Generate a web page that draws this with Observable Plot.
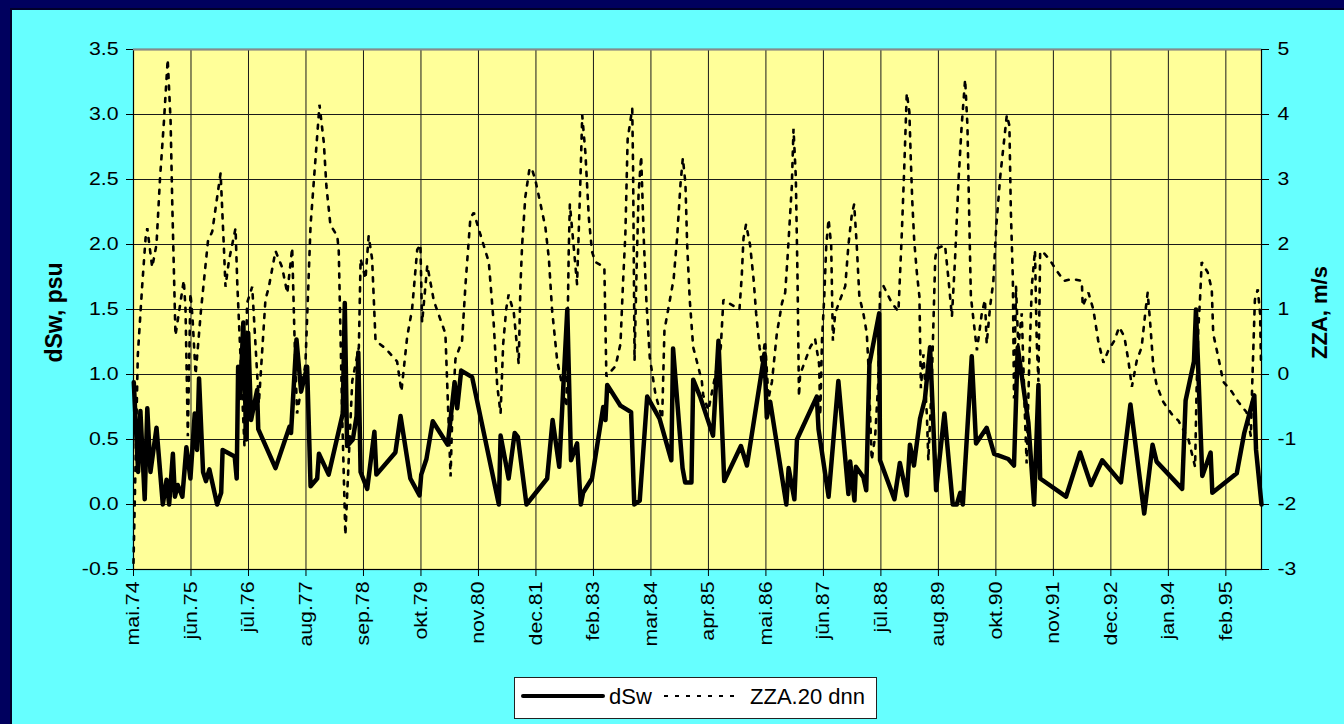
<!DOCTYPE html>
<html><head><meta charset="utf-8">
<script src="https://cdn.jsdelivr.net/npm/d3@7"></script>
<script src="https://cdn.jsdelivr.net/npm/@observablehq/plot@0.6"></script>
<style>
body{margin:0;width:1344px;height:724px;overflow:hidden;background:#00005e;font-family:"Liberation Sans",Arial,sans-serif;position:relative;}
#panel{position:absolute;left:10px;top:8px;width:1334px;height:716px;background:#66ffff;border-left:2px solid #00002a;border-top:2px solid #00002a;box-sizing:border-box;}
#chart{position:absolute;left:0;top:0;}
#legend{position:absolute;left:514px;top:677px;width:363px;height:42px;background:#fff;border:1px solid #222;box-sizing:border-box;}
</style></head><body>
<div id="panel"></div>
<div id="chart"></div>
<div id="legend"></div>
<script>
// x = 20-day period index (category number)
const dswPeriod = [0.1,1.6,2.4,3.9,4.8,5.9,8.0,10.2,11.5,12.4,13.7,14.4,15.4,17.0,18.4,19.8,21.3,22.1,22.8,24.2,25.2,26.4,29.1,30.5,31.0,35.2,35.9,36.4,37.1,38.2,39.2,39.9,40.9,43.0,43.4,49.4,54.3,54.8,56.7,58.3,60.4,61.6,63.9,64.5,67.9,72.8,73.5,74.3,76.3,77.6,78.2,79.0,81.3,83.8,84.5,91.1,92.9,96.3,99.5,100.1,101.9,104.1,109.3,111.7,112.6,114.0,117.8,127.1,127.7,130.5,132.6,133.7,136.7,143.9,145.8,148.1,150.9,152.2,154.3,155.6,156.4,159.5,163.4,164.2,164.8,169.4,173.1,174.2,176.1,178.7,183.0,187.1,187.7,191.0,191.9,194.1,194.7,197.1,201.6,203.5,205.5,211.3,213.4,219.5,220.3,221.5,227.1,227.9,229.9,230.8,237.7,238.3,241.8,245.2,248.7,249.3,250.8,251.3,253.9,254.9,256.0,259.4,259.7,264.7,266.6,269.0,270.1,271.5,273.6,275.3,277.1,279.2,282.1,285.0,286.4,287.6,288.5,291.6,293.1,296.8,299.4,304.3,306.3,307.6,311.3,313.3,314.8,315.4,324.4,329.3,333.1,337.0,343.5,346.8,351.6,354.5,355.9,364.8,366.0,368.9,369.6,371.8,374.7,375.3,383.8,386.4,389.9,390.5,392.4];
const dswValue = [0.94,0.25,0.72,0.04,0.74,0.25,0.59,0.00,0.19,0.00,0.39,0.06,0.15,0.06,0.44,0.20,0.70,0.42,0.97,0.25,0.18,0.27,0.00,0.09,0.42,0.37,0.20,1.06,0.82,1.40,0.50,1.32,0.65,0.88,0.58,0.28,0.60,0.55,1.27,0.87,1.06,0.14,0.20,0.39,0.23,0.70,1.55,0.45,0.50,0.68,1.17,0.25,0.12,0.56,0.23,0.40,0.68,0.20,0.07,0.23,0.35,0.64,0.46,0.94,0.74,1.03,0.98,0.00,0.53,0.20,0.55,0.52,0.00,0.20,0.65,0.29,1.50,0.34,0.47,0.00,0.09,0.20,0.75,0.65,0.92,0.76,0.71,0.00,0.03,0.83,0.66,0.34,1.20,0.28,0.17,0.17,0.96,0.83,0.53,1.26,0.18,0.45,0.30,1.16,0.67,0.79,0.00,0.28,0.04,0.50,0.83,0.58,0.06,0.95,0.08,0.33,0.03,0.29,0.21,0.11,1.08,1.47,0.34,0.04,0.32,0.07,0.46,0.30,0.66,0.81,1.21,0.11,0.70,0.00,0.00,0.09,0.00,1.14,0.47,0.59,0.39,0.35,0.30,1.21,0.63,0.00,0.92,0.20,0.06,0.40,0.15,0.34,0.17,0.77,-0.07,0.46,0.33,0.12,0.80,1.10,1.50,0.22,0.40,0.09,0.24,0.55,0.84,0.42,0.00];

const zzaPeriod = [0,1.5,3.0,4.2,4.8,6.5,8.0,9.2,10.6,11.9,12.9,13.5,14.6,17.5,18.1,18.9,19.8,20.5,21.6,23.5,25.9,27.4,30.3,31.4,32.0,33.2,35.5,36.1,38.6,39.5,41.3,43.6,45.9,47.1,49.4,51.7,53.5,55.2,56.0,56.9,59.8,61.6,64.7,66.2,67.1,68.5,70.9,71.4,72.6,73.7,76.1,78.4,79.0,80.7,81.8,83.0,84.2,87.7,91.7,93.2,95.2,96.9,98.7,99.8,100.4,102.2,104.5,108.5,110.3,110.9,112.0,114.3,115.5,117.2,118.4,120.7,123.6,125.3,126.5,127.7,128.6,129.7,130.5,132.3,134.0,134.6,135.2,136.3,137.8,138.7,139.8,141.6,143.3,144.5,145.6,147.4,149.1,150.6,151.4,151.8,154.3,155.5,156.1,157.2,158.4,159.5,160.7,163.8,164.5,167.7,169.4,170.3,171.1,171.9,173.5,173.8,174.3,175.0,175.7,176.6,177.5,178.4,179.6,181.6,183.9,184.7,186.2,187.9,189.1,190.3,191.1,192.0,192.6,193.5,194.7,196.1,197.7,198.2,200.0,204.3,205.2,210.8,211.6,212.2,213.1,214.5,215.7,216.6,217.8,218.6,219.7,220.9,222.1,223.8,225.6,226.7,227.5,229.0,229.6,230.4,231.0,231.5,231.9,235.4,237.1,238.5,238.9,239.5,240.3,241.0,241.8,242.7,243.3,244.1,245.8,247.6,248.7,249.9,250.7,251.6,252.5,253.9,255.1,255.7,256.8,258.0,259.1,259.7,260.9,263.8,266.1,267.3,268.1,269.0,269.9,270.4,270.9,271.6,272.5,273.4,273.9,274.8,276.0,276.5,277.7,278.9,279.4,282.3,283.5,284.7,285.8,287.0,288.1,289.3,290.1,290.8,291.3,293.4,295.1,296.2,296.8,298.0,299.1,300.1,301.5,303.8,304.7,305.2,305.9,306.3,307.0,307.8,309.0,310.1,310.7,311.6,312.5,313.6,314.2,314.8,315.4,316.3,318.8,321.1,323.7,326.6,329.9,330.2,332.2,333.9,335.6,337.4,339.1,341.2,342.9,344.7,346.1,347.3,349.0,350.7,352.1,352.8,353.6,354.8,355.9,358.2,361.2,363.5,367.0,369.3,369.8,370.4,371.0,371.6,373.7,375.1,375.6,377.4,379.1,382.0,384.3,387.2,388.7,389.2,390.1,391.1,391.9,392.2];
const zzaValue = [-2.9,0.3,1.35,2.1,2.25,1.65,2.0,3.0,3.9,4.85,3.9,2.6,0.6,1.45,1.0,-0.95,1.25,0.9,0.0,1.0,2.05,2.2,3.1,2.0,1.35,1.75,2.25,1.4,-1.1,1.1,1.35,-0.45,1.15,1.35,1.9,1.65,1.25,1.95,0.6,-0.6,0.15,2.3,4.15,3.57,2.9,2.3,2.13,1.9,-0.63,-2.47,-0.1,0.42,1.78,1.47,2.13,1.78,0.52,0.4,0.2,-0.26,0.58,1.0,1.92,2.0,0.8,1.68,1.13,0.63,-1.57,-0.63,0.24,0.52,1.39,2.41,2.49,2.15,1.73,0.79,-0.16,-0.6,0.47,1.02,1.23,0.95,0.16,1.36,2.0,2.73,3.18,3.15,2.99,2.62,2.26,1.78,1.0,0.21,-0.16,-0.5,1.89,2.62,1.39,3.04,3.99,3.41,2.41,1.89,1.73,1.65,-0.03,0.13,0.47,1.42,2.15,3.62,4.09,3.15,0.21,1.6,2.78,3.36,2.1,1.15,0.26,-0.31,-0.68,0.68,1.05,1.47,2.1,2.94,3.33,2.94,2.0,1.15,0.42,0.18,-0.1,-0.32,-0.55,0.42,1.15,1.0,1.52,2.1,2.31,1.99,1.47,0.94,0.42,0.16,0.52,-0.37,-0.11,0.63,1.1,1.26,1.78,2.89,3.78,3.04,1.47,-0.34,0.0,0.42,0.55,0.16,-0.63,0.52,1.2,1.99,2.39,1.99,0.52,0.94,1.15,1.36,1.99,2.47,2.62,1.99,1.2,0.94,0.63,0.1,-1.32,-0.95,-0.11,1.26,1.36,1.1,0.97,2.2,3.15,4.33,4.04,3.31,2.68,2.05,1.57,1.2,-0.21,0.31,-0.63,-1.32,-0.11,1.78,1.94,1.99,1.47,0.89,1.78,2.99,3.83,4.54,3.83,2.26,1.2,0.37,0.94,1.15,0.47,1.05,1.42,2.26,3.04,3.99,3.83,2.52,1.47,-0.37,1.36,0.42,0.94,-0.63,-1.37,0.16,1.36,1.91,0.52,-0.11,1.89,1.89,1.76,1.6,1.44,1.47,1.44,1.05,1.26,1.0,0.52,0.18,0.37,0.52,0.73,0.58,0.21,-0.19,0.21,0.42,1.0,1.26,0.84,0.1,-0.16,-0.42,-0.61,-0.71,-1.0,-1.42,-0.26,0.68,1.15,1.73,1.57,1.31,0.63,0.26,-0.11,-0.26,-0.42,-0.58,-0.95,-0.11,1.15,1.31,0.94,0.21];

const xTickPeriods = [0,20,40,60,80,100,120,140,160,180,200,220,240,260,280,300,320,340,360,380];
const xTickLabels = ["mai.74","jūn.75","jūl.76","aug.77","sep.78","okt.79","nov.80","dec.81","feb.83","mar.84","apr.85","mai.86","jūn.87","jūl.88","aug.89","okt.90","nov.91","dec.92","jan.94","feb.95"];
const leftTicks = [-0.5,0,0.5,1,1.5,2,2.5,3,3.5];
const rightTickLabels = ["-3","-2","-1","0","1","2","3","4","5"];
const seriesNames = ["dSw","ZZA.20 dnn"];
const leftTitle = "dSw, psu";
const rightTitle = "ZZA, m/s";

// right axis ZZA [-3,5] shares the left axis range [-0.5,3.5]
const zzaToLeft = z => (z + 2) / 2;

const dsw = dswPeriod.map((k, i) => ({k, v: dswValue[i]}));
const zza = zzaPeriod.map((k, i) => ({k, v: zzaToLeft(zzaValue[i])}));
const xLabel = new Map(xTickPeriods.map((p, i) => [p, xTickLabels[i]]));
const rLabel = new Map(leftTicks.map((t, i) => [t, rightTickLabels[i]]));

const FONT = "'Liberation Sans', Arial, sans-serif";
const TICK_FS = 18.5;
const chart = Plot.plot({
  width: 1344, height: 724,
  marginLeft: 133, marginRight: 83, marginTop: 49, marginBottom: 155,
  style: {background: "transparent", fontFamily: FONT, fontSize: "19px", color: "#000", overflow: "visible"},
  x: {type: "linear", domain: [0, 392.4], axis: null},
  y: {domain: [-0.5, 3.5], axis: null},
  marks: [
    Plot.frame({fill: "#ffff99", stroke: null}),
    Plot.gridY(leftTicks, {stroke: "#1a1a1a", strokeOpacity: 1, strokeWidth: 1}),
    Plot.gridX(xTickPeriods, {stroke: "#1a1a1a", strokeOpacity: 1, strokeWidth: 1}),
    Plot.line(zza, {x: "k", y: "v", stroke: "#000", strokeWidth: 2.6, strokeDasharray: "4,7.5", strokeLinejoin: "miter"}),
    Plot.line(dsw, {x: "k", y: "v", stroke: "#000", strokeWidth: 4.5, strokeLinejoin: "round"}),
    Plot.frame({stroke: "#000", strokeWidth: 1.2}),
    Plot.ruleY([3.5], {stroke: "#8a8a8a", strokeWidth: 2}),
    Plot.axisY(leftTicks, {anchor: "left", tickSize: 7, tickPadding: 8, tickFormat: d => d.toFixed(1), label: null, fontSize: TICK_FS}),
    Plot.axisY(leftTicks, {anchor: "right", tickSize: 7, tickPadding: 9, tickFormat: d => rLabel.get(d), label: null, fontSize: TICK_FS}),
    Plot.axisX(xTickPeriods, {anchor: "bottom", tickSize: 7, tickPadding: 5, tickRotate: -90, tickFormat: d => xLabel.get(d), label: null, fontSize: TICK_FS}),
    Plot.text([leftTitle], {text: d => d, frameAnchor: "left", textAnchor: "middle", dx: -79, dy: 3, rotate: -90, fontWeight: "bold", fontSize: 23}),
    Plot.text([rightTitle], {text: d => d, frameAnchor: "right", textAnchor: "middle", dx: 58, dy: 3, rotate: -90, fontWeight: "bold", fontSize: 22})
  ]
});
document.getElementById("chart").appendChild(chart);

// the reference renders tick labels slightly stretched along their baseline
const STRETCH = 1.15;
chart.querySelectorAll('g[aria-label$="tick label"] text').forEach(t => {
  const L = t.getComputedTextLength();
  if (L > 0) {
    t.setAttribute("textLength", (L * STRETCH).toFixed(1));
    t.setAttribute("lengthAdjust", "spacingAndGlyphs");
  }
});

// legend
const lg = d3.select("#legend").append("svg").attr("width", 361).attr("height", 40)
  .style("font-family", FONT);
lg.append("line").attr("x1", 8).attr("x2", 88).attr("y1", 18).attr("y2", 18)
  .attr("stroke", "#000").attr("stroke-width", 4).attr("stroke-linecap", "round");
lg.append("text").attr("x", 94).attr("y", 26).attr("font-size", 22).text(seriesNames[0]);
lg.append("line").attr("x1", 149).attr("x2", 226).attr("y1", 18).attr("y2", 18)
  .attr("stroke", "#000").attr("stroke-width", 2).attr("stroke-dasharray", "4,7");
lg.append("text").attr("x", 235).attr("y", 26).attr("font-size", 22).text(seriesNames[1]);
</script>
</body></html>
